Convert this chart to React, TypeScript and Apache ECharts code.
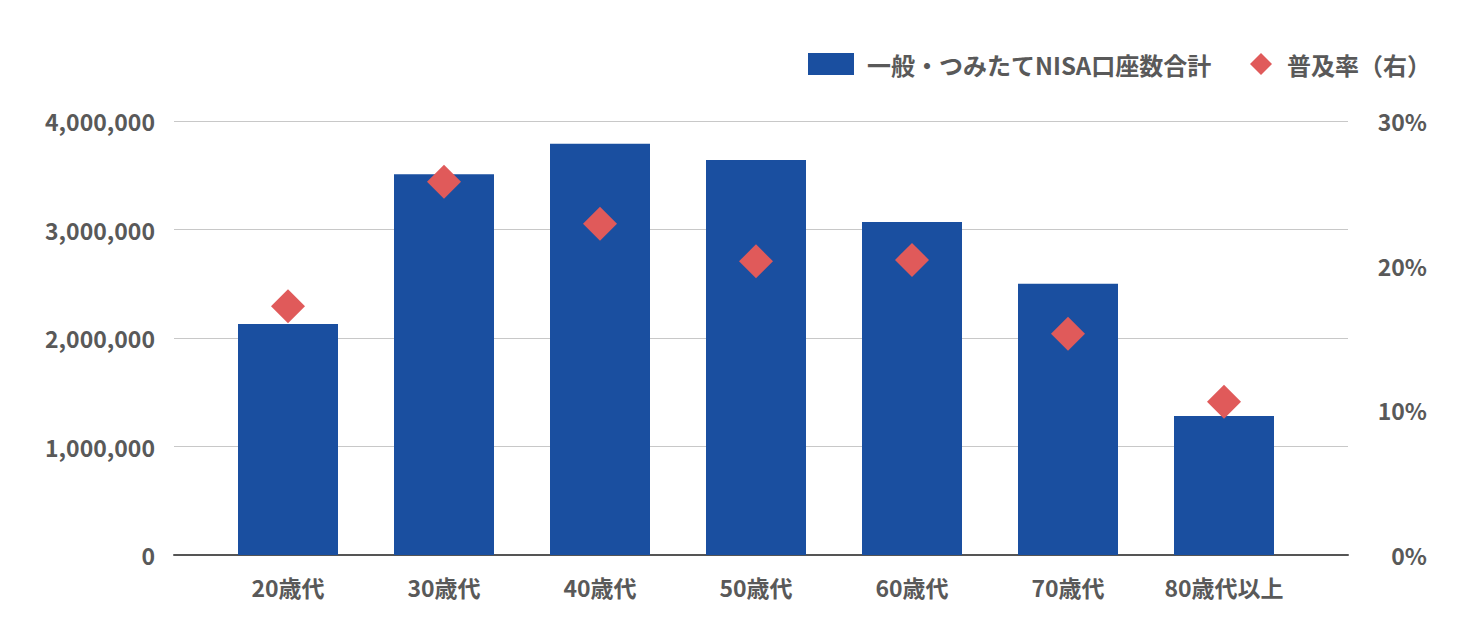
import React, { useEffect, useRef } from "react";
import * as echarts from "echarts";

const categories = ["20歳代", "30歳代", "40歳代", "50歳代", "60歳代", "70歳代", "80歳代以上"];
const accounts = [2130000, 3510000, 3790000, 3640000, 3070000, 2500000, 1280000];
const penetration = [0.172, 0.258, 0.229, 0.203, 0.204, 0.153, 0.106];
const leftTicks = { min: 0, max: 4000000, interval: 1000000 };
const rightTicks = { min: 0, max: 0.3, interval: 0.1 };
const barName = "一般・つみたてNISA口座数合計";
const rateName = "普及率（右）";

const FONT = "'Noto Sans CJK JP', 'Noto Sans', sans-serif";
const TEXT = "#595959";
const BLUE = "#1a4fa0";
const RED = "#e05a5a";

export default function App() {
  const ref = useRef<HTMLDivElement>(null);
  useEffect(() => {
    if (!ref.current) return;
    const chart = echarts.init(ref.current, undefined, { renderer: "svg" });
    const labelStyle = { color: TEXT, fontSize: 23, fontWeight: "bold" as const, fontFamily: FONT };
    const legendStyle = { ...labelStyle, fontSize: 24 };
    chart.setOption({
      animation: false,
      backgroundColor: "#ffffff",
      textStyle: { fontFamily: FONT },
      legend: [
        {
          data: [{ name: barName, icon: "rect" }],
          left: 803,
          top: 47,
          itemWidth: 46,
          itemHeight: 22,
          itemGap: 0,
          textStyle: { ...legendStyle, padding: [0, 0, 0, 8] },
          selectedMode: false,
        },
        {
          data: [{ name: rateName, icon: "diamond" }],
          left: 1245,
          top: 47,
          itemWidth: 22,
          itemHeight: 22,
          textStyle: { ...legendStyle, padding: [0, 0, 0, 10] },
          selectedMode: false,
        },
      ],
      grid: [
        { left: 174, right: 124, top: 121, bottom: 89 },
        { left: 210, right: 170, top: 121, bottom: 89 },
      ],
      xAxis: [
        {
          gridIndex: 0,
          type: "value",
          min: 0,
          max: 1,
          axisLine: { show: true, onZero: false, lineStyle: { color: "#555555", width: 2 } },
          axisTick: { show: false },
          axisLabel: { show: false },
          splitLine: { show: false },
        },
        {
          gridIndex: 1,
          type: "category",
          data: categories,
          boundaryGap: true,
          axisLine: { show: false },
          axisTick: { show: false },
          axisLabel: { ...labelStyle, margin: 20 },
        },
      ],
      yAxis: [
        {
          gridIndex: 0,
          type: "value",
          position: "left",
          ...leftTicks,
          axisLine: { show: false },
          axisTick: { show: false },
          axisLabel: {
            ...labelStyle,
            margin: 19,
            padding: [0, 0, 4, 0],
            formatter: (v: number) => v.toLocaleString("en-US"),
          },
          splitLine: { show: true, lineStyle: { color: "#c8c8c8", width: 1 } },
        },
        {
          gridIndex: 0,
          type: "value",
          position: "right",
          ...rightTicks,
          axisLine: { show: false },
          axisTick: { show: false },
          axisLabel: {
            ...labelStyle,
            align: "right",
            margin: 79,
            padding: [0, 0, 4, 0],
            formatter: (v: number) => `${Math.round(v * 100)}%`,
          },
          splitLine: { show: false },
        },
        { gridIndex: 1, type: "value", ...leftTicks, show: false, splitLine: { show: false } },
        { gridIndex: 1, type: "value", ...rightTicks, show: false, splitLine: { show: false } },
      ],
      series: [
        {
          name: barName,
          type: "bar",
          xAxisIndex: 1,
          yAxisIndex: 2,
          data: accounts,
          barWidth: 100,
          itemStyle: { color: BLUE },
        },
        {
          name: rateName,
          type: "scatter",
          xAxisIndex: 1,
          yAxisIndex: 3,
          data: penetration,
          symbol: "diamond",
          symbolSize: 34,
          itemStyle: { color: RED, opacity: 1 },
          z: 5,
        },
      ],
    });
    return () => chart.dispose();
  }, []);
  return (
    <div
      ref={ref}
      style={{ position: "absolute", left: 0, top: 0, width: 1472, height: 644 }}
    />
  );
}
